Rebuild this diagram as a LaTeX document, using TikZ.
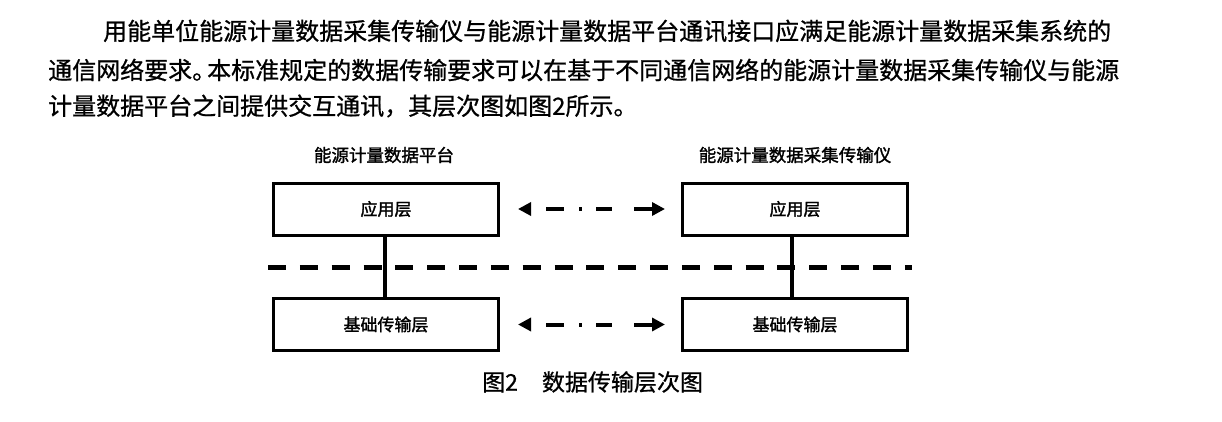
\documentclass[tikz,border=0pt]{standalone}
\usepackage{fontspec}
\setmainfont{Noto Sans CJK SC}
\newfontfamily\paratext[FakeBold=0.8]{Noto Sans CJK SC}
\newfontfamily\figtext[FakeBold=1.6]{Noto Sans CJK SC}
\usetikzlibrary{arrows.meta}
\begin{document}
\begin{tikzpicture}[x=1pt,y=-1pt,
  para/.style={anchor=west,inner sep=0pt,font=\paratext\fontsize{24}{24}\selectfont},
  sidelabel/.style={inner sep=0pt,font=\figtext\fontsize{17.5}{17.5}\selectfont},
  layerbox/.style={draw,line width=3pt,minimum width=225pt,minimum height=52pt,inner sep=0pt,font=\figtext\fontsize{17}{17}\selectfont},
  vlink/.style={line width=3.5pt},
  netline/.style={line width=5pt,dash pattern=on 18pt off 13.84pt},
  xchg/.style={line width=4pt,{Triangle[length=13pt,width=13pt]}-{Triangle[length=13pt,width=13pt]},
    dash pattern=on 18pt off 15pt on 3pt off 14pt on 16pt off 22pt on 40pt off 16pt,dash phase=128pt},
  caption/.style={anchor=west,inner sep=0pt,font=\paratext\fontsize{23}{23}\selectfont}]
\useasboundingbox (0,0) rectangle (1222,422);
\fill[white] (0,0) rectangle (1222,422);

\node[para] (p1) at (103,31) {用能单位能源计量数据采集传输仪与能源计量数据平台通讯接口应满足能源计量数据采集系统的};
\node[para] (p2) at (48,70) {通信网络要求。\hspace{-9pt}本标准规定的数据传输要求可以在基于不同通信网络的能源计量数据采集传输仪与能源};
\node[para] (p3) at (48,106) {计量数据平台之间提供交互通讯，其层次图如图2所示。};

\node[sidelabel] (lblL) at (384,155) {能源计量数据平台};
\node[sidelabel] (lblR) at (795,155) {能源计量数据采集传输仪};

\node[layerbox] (appL) at (386,209) {应用层};
\node[layerbox] (appR) at (795,209) {应用层};
\node[layerbox] (baseL) at (386,324.5) {基础传输层};
\node[layerbox] (baseR) at (795,324.5) {基础传输层};

\coordinate (netA) at (268,267);
\coordinate (netB) at (912,267);
\draw[netline] (netA) -- (netB);

\draw[vlink] ([xshift=-1pt]appL.south) -- ([xshift=-1pt]baseL.north);
\draw[vlink] ([xshift=-3pt]appR.south) -- ([xshift=-3pt]baseR.north);

\draw[xchg,shorten <=18pt,shorten >=16pt] (appL.east) -- (appR.west);
\draw[xchg,shorten <=18pt,shorten >=16pt] (baseL.east) -- (baseR.west);

\node[caption] (cap) at (482,382) {图2\hspace{24pt}数据传输层次图};
\end{tikzpicture}
\end{document}
